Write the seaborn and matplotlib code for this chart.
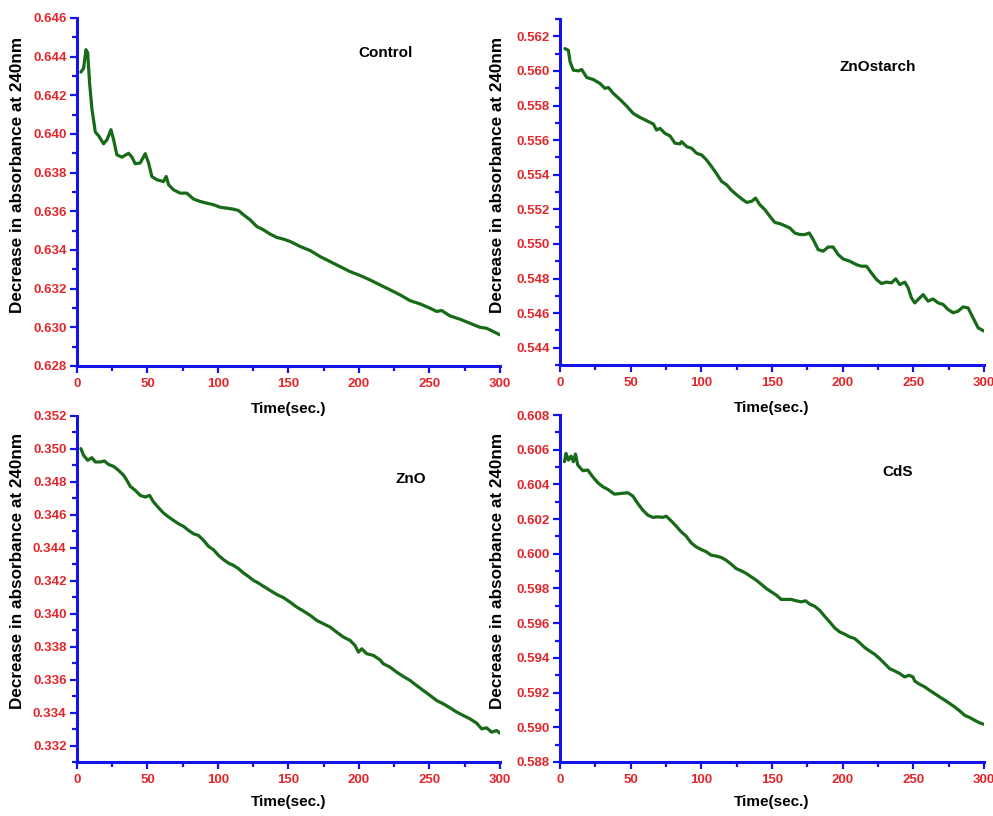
import matplotlib
matplotlib.use("Agg")
import matplotlib.pyplot as plt
from matplotlib.ticker import MultipleLocator, FormatStrFormatter
import seaborn as sns

sns.set_style("ticks")
plt.rcParams["font.family"] = ["Liberation Sans", "DejaVu Sans"]
plt.rcParams["text.color"] = "black"
plt.rcParams["axes.labelcolor"] = "black"

# data: time (s) and absorbance
control_t = [2.8, 4.7, 6.4, 7.6, 9, 10.6, 13, 15.4, 18.9, 21.3, 24.1, 26, 28.3, 31.9, 36.6, 39,
             41.3, 44.9, 48.4, 50.8, 53.1, 56.7, 61.4, 63.3, 65, 68.5, 73.2, 77.9, 82.7, 87.4,
             92.1, 96.8, 101.6, 106.3, 111, 114.6, 118.1, 122.8, 127.6, 132.3, 137, 141.7,
             146.5, 151.2, 158.3, 165.4, 172.4, 179.5, 186.6, 193.7, 200.8, 207.9, 215, 222,
             229.1, 236.2, 243.3, 250.4, 255.1, 258.6, 264.5, 271.6, 278.7, 285.8, 290.5,
             295.3, 300]
control_a = [0.6432, 0.6434, 0.64436, 0.6442, 0.6426, 0.6413, 0.6401, 0.6399, 0.63949, 0.6397,
             0.64022, 0.6397, 0.63892, 0.6388, 0.6390, 0.6388, 0.63846, 0.6385, 0.63898, 0.6385,
             0.6378, 0.63763, 0.63754, 0.6378, 0.63737, 0.63711, 0.63694, 0.63694, 0.63663,
             0.63651, 0.63642, 0.63634, 0.63621, 0.63616, 0.63611, 0.63604, 0.63582, 0.63556,
             0.63521, 0.63504, 0.63482, 0.63465, 0.63456, 0.63444, 0.63418, 0.63397, 0.63366,
             0.63340, 0.63314, 0.63288, 0.63268, 0.63245, 0.63219, 0.63194, 0.63168, 0.63138,
             0.63121, 0.63099, 0.63082, 0.63087, 0.63059, 0.63042, 0.63021, 0.63000, 0.62995,
             0.62978, 0.62961]

starch_t = [3.5, 5.9, 7.1, 9.4, 13, 15.3, 18.9, 23.6, 28.3, 31.8, 34.2, 37.7, 42.4, 47.1, 51.8,
            56.6, 61.3, 66, 68.3, 70.7, 74.2, 77.8, 81.3, 84.8, 86, 89.6, 93.1, 96.6, 100.2,
            103.7, 107.2, 110.8, 114.3, 117.8, 121.4, 124.9, 128.4, 132, 135.5, 138.3, 141.4,
            144.9, 148.5, 152, 155.5, 159.1, 162.6, 166.1, 169.7, 173.2, 176.3, 179.1, 182.6,
            186.2, 189.7, 193.2, 196.8, 200.3, 205, 209.7, 213.3, 216.8, 220.3, 223.9, 227.4,
            230.9, 234.5, 237.5, 240.4, 243.9, 246.3, 248.6, 251, 254.5, 256.9, 260.4, 263.9,
            267.5, 271, 274.5, 278.1, 281.6, 285.2, 288.7, 292.2, 295.8, 300]
starch_a = [0.56129, 0.56119, 0.56052, 0.56004, 0.56000, 0.56008, 0.55962, 0.55950, 0.55927,
            0.55899, 0.55904, 0.5587, 0.55835, 0.55797, 0.55754, 0.55731, 0.55712, 0.55693,
            0.55658, 0.55668, 0.55639, 0.55624, 0.55582, 0.55578, 0.55591, 0.55562, 0.55553,
            0.55524, 0.55514, 0.55485, 0.55447, 0.55405, 0.55361, 0.55342, 0.55309, 0.55284,
            0.55261, 0.5524, 0.55246, 0.55265, 0.55226, 0.55198, 0.55159, 0.55124, 0.55117,
            0.55105, 0.55092, 0.55063, 0.55054, 0.55054, 0.55063, 0.55025, 0.54967, 0.54958,
            0.54982, 0.54982, 0.54938, 0.54913, 0.54900, 0.5488, 0.54871, 0.54871, 0.54832,
            0.54794, 0.54771, 0.54779, 0.54775, 0.54798, 0.54765, 0.54779, 0.54746, 0.54688,
            0.54659, 0.54688, 0.54707, 0.54669, 0.54682, 0.54659, 0.5465, 0.54621, 0.54602,
            0.54611, 0.54636, 0.5463, 0.54573, 0.54515, 0.54496]

zno_t = [2.8, 4.7, 7.6, 10.6, 13, 16.5, 19.4, 22.4, 26, 29.5, 33.1, 35.4, 37.8, 41.3, 44.9, 48.4,
         51.5, 54.3, 57.9, 61.4, 65, 68.5, 72, 75.6, 79.1, 82.7, 86.2, 89.8, 93.3, 96.8, 100.4,
         103.9, 107.5, 111, 114.6, 118.1, 121.6, 125.2, 128.7, 132.3, 137, 141.7, 146.5, 151.2,
         155.9, 160.6, 165.4, 170.1, 174.8, 179.5, 184.2, 189, 193.7, 197.2, 199.6, 202, 205.5,
         210.2, 214.9, 217.3, 222, 226.8, 231.5, 236.2, 240.9, 245.6, 250.4, 255.1, 259.8,
         264.5, 269.3, 274, 278.7, 283.4, 287, 290.5, 294.1, 297.6, 300]
zno_a = [0.35002, 0.34961, 0.34931, 0.34947, 0.34921, 0.34921, 0.34927, 0.34906, 0.34894,
         0.3487, 0.3484, 0.34809, 0.34773, 0.34749, 0.34718, 0.34708, 0.34718, 0.34678, 0.34643,
         0.34611, 0.34587, 0.34566, 0.34546, 0.3453, 0.34506, 0.34485, 0.34475, 0.34445,
         0.34409, 0.34388, 0.34354, 0.34328, 0.34307, 0.34293, 0.34273, 0.34247, 0.34226,
         0.34202, 0.34186, 0.34166, 0.34141, 0.34117, 0.34097, 0.3407, 0.3404, 0.34016, 0.3399,
         0.33959, 0.33939, 0.33919, 0.33888, 0.33858, 0.33838, 0.33807, 0.33767, 0.33787,
         0.33757, 0.33747, 0.3372, 0.33696, 0.33676, 0.33645, 0.33619, 0.33595, 0.33564,
         0.33534, 0.33504, 0.33473, 0.33453, 0.33429, 0.33403, 0.33382, 0.33362, 0.33336,
         0.33301, 0.33307, 0.33281, 0.33291, 0.33275]

cds_t = [3.1, 4.2, 5.9, 7.8, 9.4, 10.9, 12.5, 16.1, 19.6, 23.1, 26.7, 30.2, 33.8, 38.5, 43.2,
         47.9, 51.5, 55, 58.5, 62.1, 65.6, 69.2, 72.7, 75.1, 78.6, 82.1, 85.7, 89.2, 92.8, 96.3,
         99.8, 103.4, 106.9, 110.5, 114, 117.5, 121.1, 124.6, 128.2, 131.7, 135.3, 138.8, 142.3,
         145.9, 149.4, 153, 156.5, 160, 163.6, 167.1, 170.7, 173.7, 176.6, 180.1, 183.6, 187.2,
         190.7, 194.3, 197.8, 201.3, 204.9, 208.4, 212, 215.5, 219, 222.6, 226.1, 229.7, 233.2,
         236.7, 240.3, 243.8, 246.9, 249.7, 250.9, 254.4, 258, 261.5, 265.1, 268.6, 272.2,
         275.7, 279.2, 282.8, 286.3, 289.9, 293.4, 297, 300]
cds_a = [0.60531, 0.60579, 0.6054, 0.60563, 0.60531, 0.60575, 0.60512, 0.60479, 0.60483,
         0.60444, 0.6041, 0.60387, 0.60371, 0.60344, 0.60348, 0.60352, 0.60333, 0.6029,
         0.60252, 0.60223, 0.60210, 0.60213, 0.6021, 0.60217, 0.6019, 0.6016, 0.60127, 0.60102,
         0.60063, 0.6004, 0.60025, 0.60012, 0.59992, 0.59987, 0.59979, 0.59963, 0.5994,
         0.59915, 0.59902, 0.59887, 0.59867, 0.59848, 0.59825, 0.598, 0.59781, 0.59762,
         0.59737, 0.59737, 0.59737, 0.59729, 0.59723, 0.59729, 0.5971, 0.59698, 0.59675,
         0.5964, 0.59608, 0.59573, 0.5955, 0.59537, 0.59521, 0.59512, 0.59487, 0.5946, 0.5944,
         0.59421, 0.59396, 0.59367, 0.59338, 0.59325, 0.5931, 0.5929, 0.593, 0.5929, 0.59267,
         0.59248, 0.59233, 0.59213, 0.59194, 0.59175, 0.59156, 0.59137, 0.59117, 0.59094,
         0.59069, 0.59056, 0.5904, 0.59025, 0.59017]

names = ["Control", "ZnOstarch", "ZnO", "CdS"]
series = [(control_t, control_a), (starch_t, starch_a), (zno_t, zno_a), (cds_t, cds_a)]
ylims = [(0.628, 0.646), (0.543, 0.563), (0.331, 0.352), (0.588, 0.608)]

# axes boxes in figure fractions (left, bottom, width, height)
boxes = [(0.0775, 0.5515, 0.426, 0.4265),
         (0.564, 0.5527, 0.427, 0.424),
         (0.0775, 0.0662, 0.426, 0.424),
         (0.564, 0.0662, 0.427, 0.4252)]
name_pos = [(0.730, 0.899), (0.750, 0.861), (0.790, 0.818), (0.795, 0.836)]
ylabel_xy = [(-0.123, 0.549), (-0.130, 0.549), (-0.123, 0.552), (-0.130, 0.552)]
xlabel_y = [-0.103, -0.103, -0.095, -0.095]

blue = "#1414e6"
red = "#e3262b"
green = "#176a17"

fig = plt.figure(figsize=(9.93, 8.16), dpi=100)
for i in range(4):
    ax = fig.add_axes(boxes[i])
    t, a = series[i]
    sns.lineplot(x=t, y=a, ax=ax, color=green, linewidth=2.3)
    ax.set_xlim(0, 300)
    ax.set_ylim(*ylims[i])
    ax.xaxis.set_major_locator(MultipleLocator(50))
    ax.xaxis.set_minor_locator(MultipleLocator(25))
    ax.yaxis.set_major_locator(MultipleLocator(0.002))
    ax.yaxis.set_minor_locator(MultipleLocator(0.001))
    ax.yaxis.set_major_formatter(FormatStrFormatter("%.3f"))
    for s in ["top", "right"]:
        ax.spines[s].set_visible(False)
    for s in ["left", "bottom"]:
        ax.spines[s].set_color(blue)
        ax.spines[s].set_linewidth(2.2)
    ax.tick_params(which="major", direction="out", length=5, width=1.6, color=blue,
                   labelcolor=red, labelsize=9.5)
    ax.tick_params(which="minor", direction="out", length=3.5, width=1.6, color=blue)
    ax.tick_params(axis="y", pad=2.5)
    ax.tick_params(axis="x", pad=4)
    for lab in ax.get_xticklabels() + ax.get_yticklabels():
        lab.set_fontweight("bold")
    ax.set_ylabel("Decrease in absorbance at 240nm", fontsize=12.3, fontweight="bold",
                  color="black")
    ax.set_xlabel("Time(sec.)", fontsize=11, fontweight="bold", color="black")
    ax.yaxis.set_label_coords(*ylabel_xy[i])
    ax.xaxis.set_label_coords(0.5, xlabel_y[i])
    ax.text(name_pos[i][0], name_pos[i][1], names[i], transform=ax.transAxes,
            ha="center", va="center", fontsize=11, fontweight="bold", color="black")
    ax.patch.set_alpha(0)

fig.savefig("out.png", dpi=100)
